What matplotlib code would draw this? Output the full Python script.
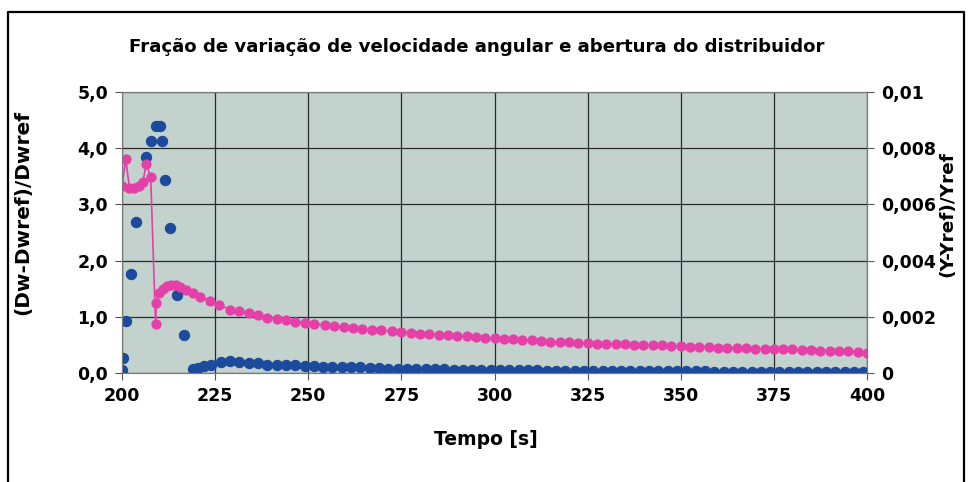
import matplotlib
matplotlib.use("Agg")
import matplotlib.pyplot as plt
from matplotlib.lines import Line2D
from matplotlib.ticker import FixedLocator, FuncFormatter

# angular speed variation (left axis)
t_dw = [200.0, 200.3, 201.0, 202.3, 203.8, 206.4, 207.7, 209.1, 210.1, 210.8,
        211.5, 212.9, 214.7, 216.6, 219.0, 220.5, 222.0, 224.0, 226.5, 229.0,
        231.5, 234.0, 236.5, 239.0, 241.5, 244.0, 246.5, 249.0, 251.5, 254.0,
        256.5, 259.0, 261.5, 264.0, 266.5, 269.0, 271.5, 274.0, 276.5, 279.0,
        281.5, 284.0, 286.5, 289.0, 291.5, 294.0, 296.5, 299.0, 301.5, 304.0,
        306.5, 309.0, 311.5, 314.0, 316.5, 319.0, 321.5, 324.0, 326.5, 329.0,
        331.5, 334.0, 336.5, 339.0, 341.5, 344.0, 346.5, 349.0, 351.5, 354.0,
        356.5, 359.0, 361.5, 364.0, 366.5, 369.0, 371.5, 374.0, 376.5, 379.0,
        381.5, 384.0, 386.5, 389.0, 391.5, 394.0, 396.5, 399.0]
dw = [0.05, 0.27, 0.92, 1.77, 2.68, 3.84, 4.13, 4.40, 4.40, 4.12,
      3.44, 2.58, 1.38, 0.67, 0.08, 0.09, 0.12, 0.15, 0.20, 0.21,
      0.20, 0.18, 0.17, 0.15, 0.15, 0.14, 0.14, 0.13, 0.12, 0.11,
      0.11, 0.11, 0.10, 0.10, 0.09, 0.09, 0.08, 0.08, 0.08, 0.07,
      0.07, 0.07, 0.07, 0.06, 0.06, 0.06, 0.06, 0.05, 0.05, 0.05,
      0.05, 0.05, 0.05, 0.04, 0.03, 0.03, 0.03, 0.03, 0.03, 0.03,
      0.03, 0.03, 0.03, 0.03, 0.03, 0.03, 0.03, 0.03, 0.03, 0.03,
      0.03, 0.02, 0.02, 0.02, 0.02, 0.02, 0.02, 0.02, 0.02, 0.02,
      0.02, 0.02, 0.02, 0.02, 0.02, 0.02, 0.02, 0.02]

# gate opening variation (right axis)
t_y = [200.0, 201.0, 202.0, 203.2, 204.5, 205.6, 206.5, 207.7, 209.0, 209.2,
       210.0, 211.0, 212.0, 213.2, 214.4, 215.6, 217.2, 219.0, 221.0, 223.5,
       226.0, 229.0, 231.5, 234.0, 236.5, 239.0, 241.5, 244.0, 246.5, 249.0,
       251.5, 254.5, 257.0, 259.5, 262.0, 264.5, 267.0, 269.5, 272.5, 275.0,
       277.5, 280.0, 282.5, 285.0, 287.5, 290.0, 292.5, 295.0, 297.5, 300.0,
       302.5, 305.0, 307.5, 310.0, 312.5, 315.0, 317.5, 320.0, 322.5, 325.0,
       327.5, 330.0, 332.5, 335.0, 337.5, 340.0, 342.5, 345.0, 347.5, 350.0,
       352.5, 355.0, 357.5, 360.0, 362.5, 365.0, 367.5, 370.0, 372.5, 375.0,
       377.5, 380.0, 382.5, 385.0, 387.5, 390.0, 392.5, 395.0, 397.5, 400.0]
yy = [0.00664, 0.00760, 0.00658, 0.00660, 0.00666, 0.00680, 0.00744, 0.00698, 0.00174, 0.00250,
      0.00284, 0.00300, 0.00310, 0.00314, 0.00312, 0.00306, 0.00296, 0.00284, 0.00272, 0.00256,
      0.00242, 0.00226, 0.00220, 0.00212, 0.00206, 0.00196, 0.00194, 0.00188, 0.00182, 0.00178,
      0.00176, 0.00170, 0.00166, 0.00164, 0.00160, 0.00156, 0.00154, 0.00152, 0.00150, 0.00146,
      0.00142, 0.00140, 0.00138, 0.00136, 0.00134, 0.00132, 0.00130, 0.00128, 0.00126, 0.00124,
      0.00122, 0.00120, 0.00118, 0.00116, 0.00114, 0.00112, 0.00110, 0.00110, 0.00108, 0.00106,
      0.00104, 0.00104, 0.00102, 0.00102, 0.00100, 0.00100, 0.00098, 0.00098, 0.00097, 0.00096,
      0.00094, 0.00094, 0.00092, 0.00090, 0.00090, 0.00088, 0.00088, 0.00086, 0.00086, 0.00086,
      0.00084, 0.00084, 0.00082, 0.00082, 0.00080, 0.00080, 0.00078, 0.00078, 0.00076, 0.00072]

x_ticks = [200, 225, 250, 275, 300, 325, 350, 375, 400]
left_ticks = [0.0, 1.0, 2.0, 3.0, 4.0, 5.0]
right_ticks = [0, 0.002, 0.004, 0.006, 0.008, 0.01]

plt.rcParams['font.family'] = ['DejaVu Sans']
plt.rcParams['font.weight'] = 'bold'

fig = plt.figure(figsize=(9.7, 4.82), dpi=100)
ax = fig.add_axes([0.1258, 0.2261, 0.768, 0.5830])
ax.set_facecolor('#C4D2CE')
ax2 = ax.twinx()

ax.plot(t_dw, dw, 'o', color='#1C4A9C', markersize=7.2, zorder=3)
ax2.plot(t_y, yy, '-o', color='#E440A8', markersize=6.4, linewidth=1.2)

ax.set_xlim(200, 400)
ax.set_ylim(0, 5)
ax2.set_ylim(0, 0.01)
ax.xaxis.set_major_locator(FixedLocator(x_ticks))
ax.yaxis.set_major_locator(FixedLocator(left_ticks))
ax2.yaxis.set_major_locator(FixedLocator(right_ticks))
ax.yaxis.set_major_formatter(FuncFormatter(lambda v, p: f"{v:.1f}".replace('.', ',')))
ax2.yaxis.set_major_formatter(FuncFormatter(lambda v, p: '0' if v == 0 else f"{v:g}".replace('.', ',')))

ax.grid(True, color='#2a2a2a', linewidth=0.9)
ax.set_axisbelow(True)
for a in (ax, ax2):
    for s in a.spines.values():
        s.set_color('#7a7a7a')
        s.set_linewidth(0.8)
    a.tick_params(length=5, width=0.8, color='#555555', labelsize=12.5, pad=5)

ax.set_xlabel('Tempo [s]', fontsize=13.5, fontweight='bold')
ax.xaxis.set_label_coords(0.489, -0.203)
ax.set_ylabel('(Dw-Dwref)/Dwref', fontsize=14.5, fontweight='bold')
ax.yaxis.set_label_coords(-0.12, 0.57)
ax2.set_ylabel('(Y-Yref)/Yref', fontsize=13.3, fontweight='bold')
ax2.yaxis.set_label_coords(1.096, 0.566)
fig.text(0.492, 0.902, 'Fração de variação de velocidade angular e abertura do distribuidor',
         ha='center', va='center', fontsize=13.1, fontweight='bold')

# outer chart frame (left, top, right)
fig.add_artist(Line2D([8/970, 8/970, 964/970, 964/970], [0, 1 - 12/482, 1 - 12/482, 0],
                      transform=fig.transFigure, color='black', linewidth=1.6))

fig.savefig('out.png', dpi=100)
